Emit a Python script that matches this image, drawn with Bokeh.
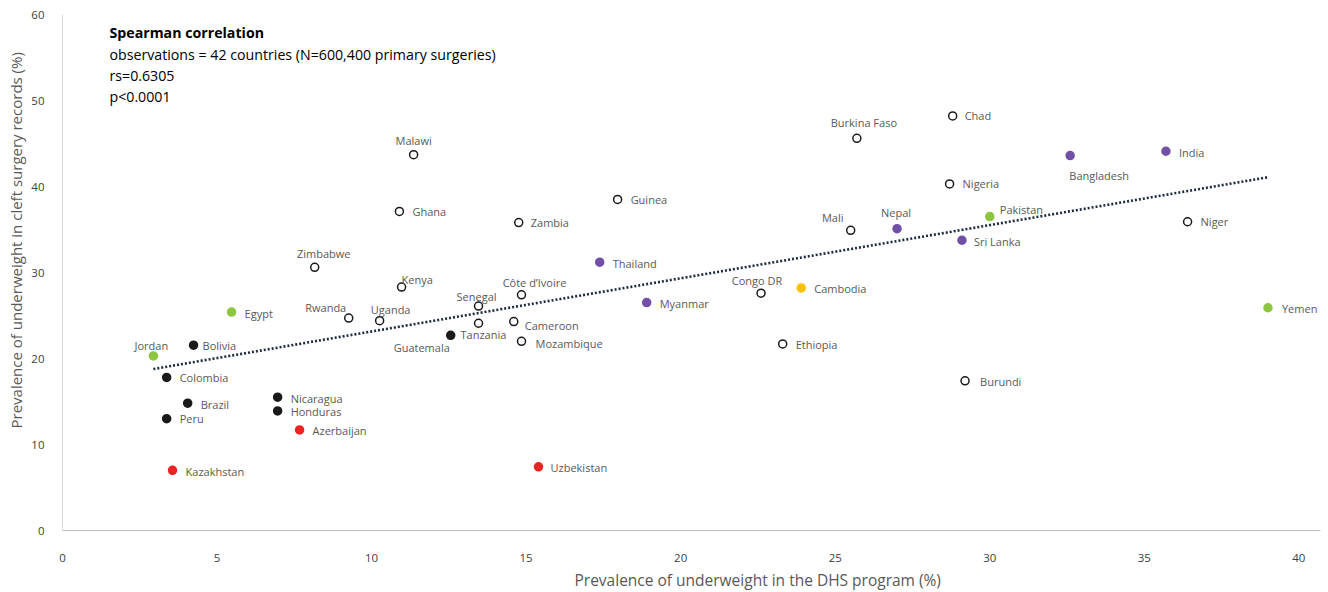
import numpy as np
from bokeh.plotting import figure
from bokeh.models import ColumnDataSource, Range1d, FixedTicker, Label, Title
from bokeh.core.properties import value
from bokeh.embed import file_html
from bokeh.resources import INLINE

# ---- data ----
countries = ["Malawi", "Burkina Faso", "Chad", "Nigeria", "Ghana", "Zambia", "Guinea", "Mali",
             "Niger", "Zimbabwe", "Kenya", "Côte d’Ivoire", "Senegal", "Congo DR", "Rwanda",
             "Uganda", "Tanzania", "Cameroon", "Mozambique", "Ethiopia", "Burundi",
             "Bolivia", "Colombia", "Brazil", "Peru", "Nicaragua", "Honduras", "Guatemala",
             "Azerbaijan", "Kazakhstan", "Uzbekistan",
             "Egypt", "Jordan", "Pakistan", "Yemen",
             "Thailand", "Myanmar", "Nepal", "Sri Lanka", "Bangladesh", "India",
             "Cambodia"]
dhs_underweight = [11.36, 25.7, 28.8, 28.7, 10.9, 14.76, 17.96, 25.5,
                   36.4, 8.16, 10.97, 14.85, 13.46, 22.6, 9.26,
                   10.26, 13.46, 14.6, 14.85, 23.3, 29.2,
                   4.24, 3.37, 4.05, 3.37, 6.96, 6.96, 12.56,
                   7.67, 3.56, 15.4,
                   5.47, 2.94, 30.0, 39.0,
                   17.38, 18.9, 27.0, 29.1, 32.6, 35.7,
                   23.9]
cleft_underweight = [43.7, 45.6, 48.2, 40.3, 37.1, 35.8, 38.5, 34.9,
                     35.9, 30.6, 28.3, 27.4, 26.1, 27.6, 24.7,
                     24.4, 24.1, 24.3, 22.0, 21.7, 17.4,
                     21.55, 17.8, 14.8, 13.0, 15.5, 13.9, 22.7,
                     11.7, 7.0, 7.4,
                     25.4, 20.3, 36.5, 25.9,
                     31.2, 26.5, 35.1, 33.75, 43.6, 44.1,
                     28.2]
groups = (["Africa"] * 21 + ["Latin America"] * 7 + ["Central Asia"] * 3 +
          ["Middle East"] * 4 + ["South/SE Asia"] * 6 + ["Cambodia"])
x_ticks = [0, 5, 10, 15, 20, 25, 30, 35, 40]
y_ticks = [0, 10, 20, 30, 40, 50, 60]
x_title = "Prevalence of underweight in the DHS program (%)"
y_title = "Prevalence of underweight in cleft surgery records (%)"
stats_lines = ["Spearman correlation",
               "observations = 42 countries (N=600,400 primary surgeries)",
               "rs=0.6305",
               "p<0.0001"]

# ---- styling ----
fill_colors = {"Africa": "white", "Latin America": "#1a1a1a", "Central Asia": "#ee2222",
               "Middle East": "#8cc63f", "South/SE Asia": "#7150a6", "Cambodia": "#ffc000"}
line_colors = {"Africa": "#1a1a1a", "Latin America": "#1a1a1a", "Central Asia": "#ee2222",
               "Middle East": "#8cc63f", "South/SE Asia": "#7150a6", "Cambodia": "#ffc000"}
# label placement: screen px offsets from the marker (dy positive = down); align
label_place = {
    "Malawi": (0, -14, "center"), "Burkina Faso": (7, -16, "center"), "Chad": (12, 0, "left"),
    "Nigeria": (13, 0, "left"), "Ghana": (13, 0, "left"), "Zambia": (12, 0, "left"),
    "Guinea": (13, 0, "left"), "Mali": (-18, -13, "center"), "Niger": (13, 0, "left"),
    "Zimbabwe": (9, -14, "center"), "Kenya": (0, -8, "left"), "Côte d’Ivoire": (13, -12, "center"),
    "Senegal": (-2, -10, "center"), "Congo DR": (-4, -13, "center"), "Rwanda": (-23, -11, "center"),
    "Uganda": (11, -11, "center"), "Tanzania": (-18, 11, "left"), "Cameroon": (11, 4, "left"),
    "Mozambique": (14, 2, "left"), "Ethiopia": (13, 1, "left"), "Burundi": (15, 1, "left"),
    "Bolivia": (9, 0, "left"), "Colombia": (13, 0, "left"), "Brazil": (13, 1, "left"),
    "Peru": (13, 0, "left"), "Nicaragua": (13, 1, "left"), "Honduras": (13, 1, "left"),
    "Guatemala": (-29, 12, "center"), "Azerbaijan": (13, 1, "left"), "Kazakhstan": (13, 1, "left"),
    "Uzbekistan": (12, 1, "left"), "Egypt": (13, 1, "left"), "Jordan": (-2, -10, "center"),
    "Pakistan": (10, -7, "left"), "Yemen": (14, 1, "left"), "Thailand": (13, 1, "left"),
    "Myanmar": (13, 1, "left"), "Nepal": (-1, -16, "center"), "Sri Lanka": (12, 1, "left"),
    "Bangladesh": (29, 20, "center"), "India": (13, 1, "left"), "Cambodia": (13, 1, "left"),
}

FONT = "Open Sans"
GRAY = "#595959"

p = figure(width=1328, height=592, output_backend="svg", toolbar_location=None,
           x_range=Range1d(0, 40.7), y_range=Range1d(0, 60),
           min_border_left=62, min_border_right=8, min_border_top=14, min_border_bottom=52)
p.outline_line_color = None
p.xgrid.visible = False
p.ygrid.visible = False
p.background_fill_color = "white"

for ax in (p.xaxis[0], p.yaxis[0]):
    ax.major_tick_line_color = None
    ax.minor_tick_line_color = None
    ax.major_label_text_font = FONT
    ax.major_label_text_font_size = "11.5px"
    ax.major_label_text_color = "#404040"
p.xaxis.ticker = FixedTicker(ticks=x_ticks)
p.yaxis.ticker = FixedTicker(ticks=y_ticks)
p.xaxis.axis_line_color = "#bfbfbf"
p.yaxis.axis_line_color = "#d9d9d9"
p.xaxis.major_label_standoff = 17
p.yaxis.major_label_standoff = 12

# axis titles (positioned along the axis like the reference)
p.add_layout(Title(text=x_title, align="left", offset=512, standoff=4,
                   text_font=FONT, text_font_size="15.5px", text_font_style="normal",
                   text_color=GRAY), "below")
p.add_layout(Title(text=y_title, align="left", offset=102, standoff=6,
                   text_font=FONT, text_font_size="15px", text_font_style="normal",
                   text_color=GRAY), "left")

# trend line (least squares over the data)
xs = np.array(dhs_underweight)
ys = np.array(cleft_underweight)
slope, intercept = np.polyfit(xs, ys, 1)
tx = np.array([xs.min(), xs.max()])
p.line(tx, slope * tx + intercept, line_color="#1f2a40", line_width=2.6, line_dash="2 2")

src = ColumnDataSource(dict(
    x=dhs_underweight, y=cleft_underweight, name=countries,
    fill=[fill_colors[g] for g in groups], line=[line_colors[g] for g in groups],
    dx=[label_place[c][0] for c in countries], dy=[label_place[c][1] for c in countries],
    align=[label_place[c][2] for c in countries],
))
p.scatter("x", "y", source=src, size=8, fill_color="fill", line_color="line", line_width=1.5)
p.text("x", "y", text="name", source=src, x_offset="dx", y_offset="dy",
       text_align="align", text_baseline="middle", text_font=value(FONT),
       text_font_size="11px", text_color=GRAY)

# Spearman annotation
y_positions = [57.9, 55.4, 52.9, 50.5]
for i, (line_txt, yy) in enumerate(zip(stats_lines, y_positions)):
    p.add_layout(Label(x=1.52, y=yy, text=line_txt, text_font=FONT, text_font_size="14.2px",
                       text_color="black", text_baseline="middle",
                       text_font_style="bold" if i == 0 else "normal"))

open("out.html", "w").write(file_html(p, INLINE))
